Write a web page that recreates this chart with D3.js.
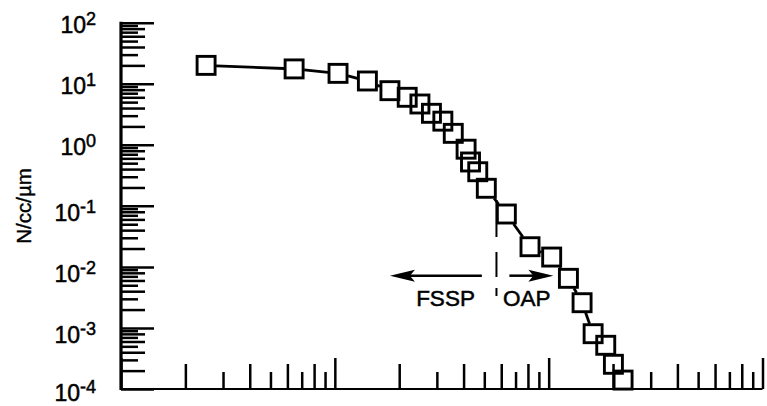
<!DOCTYPE html>
<html><head><meta charset="utf-8">
<script src="https://cdn.jsdelivr.net/npm/d3@7"></script>
<style>body{margin:0;background:#fff}svg{display:block}</style>
</head><body><svg id="c" width="767" height="406"></svg>
<script>
// ---- data ----
const particleSize = [2.5, 6.45, 10.35, 14.2, 18.1, 21.8, 25.0, 28.3, 32.0, 35.8, 41.1, 43.1, 46.6, 51.1, 63.4, 81.8, 103.3, 123.7, 143.3, 161.4, 184.9, 200.8, 222.8];
const concentration = [20.0, 17.5, 14.8, 11.1, 7.7, 6.0, 4.66, 3.28, 2.44, 1.54, 0.847, 0.523, 0.362, 0.194, 0.0735, 0.0214, 0.0145, 0.0065, 0.00259, 0.000805, 0.00052, 0.000254, 0.00014];
const yTickExponents = [2, 1, 0, -1, -2, -3, -4];
const xMajorTicks = [1, 10, 100, 1000];
const yTitle = "N/cc/\u00b5m";
const probeBoundary = 57;            // size where FSSP hands over to OAP
const probeBoundaryRange = [0.125, 0.0033];
const leftArrow = [48.7, 18.1];      // from, to (size units)
const rightArrow = [65.5, 105.2];
const arrowLevel = 0.00718;
const probeLabels = ["FSSP", "OAP"];
const probeLabelX = [24.0, 61.2];
const probeLabelLevel = 0.00229;

// ---- chart ----
const FONT = "'Liberation Sans', Arial, Helvetica, sans-serif";
const svg = d3.select("#c");
const x = d3.scaleLog().domain([1, 1000]).range([121, 762.5]);
const y = d3.scaleLog().domain([1e-4, 1e2]).range([389, 22.7]);

function minors(lo, hi, parity) {
  const out = [];
  for (let e = lo; e < hi; e++) for (let m = 2; m <= 9; m++) if (m % 2 === parity) out.push(m * Math.pow(10, e));
  return out;
}

// x axis tick groups
const xGroups = [
  {vals: xMajorTicks, len: 31},
  {vals: minors(0, 3, 0), len: 25},
  {vals: minors(0, 3, 1), len: 17}
];
xGroups.forEach(g => {
  const ax = svg.append("g").attr("transform", "translate(0,389)")
    .call(d3.axisBottom(x).tickValues(g.vals).tickSize(-g.len).tickSizeOuter(0).tickFormat(""));
  ax.select(".domain").remove();
  ax.selectAll("line").attr("stroke", "#000").attr("stroke-width", 2.5);
});
// y axis tick groups
const yGroups = [
  {vals: yTickExponents.map(e => Math.pow(10, e)), len: 33},
  {vals: minors(-4, 2, 0), len: 24},
  {vals: minors(-4, 2, 1), len: 17}
];
yGroups.forEach(g => {
  const ax = svg.append("g").attr("transform", "translate(121,0)")
    .call(d3.axisLeft(y).tickValues(g.vals).tickSize(-g.len).tickSizeOuter(0).tickFormat(""));
  ax.select(".domain").remove();
  ax.selectAll("line").attr("stroke", "#000").attr("stroke-width", 2.5);
});
// axis lines
svg.append("line").attr("x1", x(1)).attr("x2", x(1000)).attr("y1", y(1e-4)).attr("y2", y(1e-4))
  .attr("stroke", "#000").attr("stroke-width", 2.2);
svg.append("line").attr("x1", x(1)).attr("x2", x(1)).attr("y1", y(1e2) - 1).attr("y2", y(1e-4) + 1)
  .attr("stroke", "#000").attr("stroke-width", 3.2);

// y tick labels
yTickExponents.forEach(e => {
  const t = svg.append("text").attr("x", 96)
    .attr("y", Math.min(y(Math.pow(10, e)) + (e >= 0 ? 10.5 : 15), 400.5))
    .attr("text-anchor", "end").attr("font-family", FONT).attr("fill", "#000")
    .attr("stroke", "#000").attr("stroke-width", 0.5);
  t.append("tspan").attr("font-size", 23).text("10");
  t.append("tspan").attr("font-size", 18).attr("dy", -8).text(String(e));
});

// y title
svg.append("text").attr("transform", "translate(31,206) rotate(-90)")
  .attr("text-anchor", "middle").attr("font-family", FONT).attr("font-size", 20.5)
  .attr("fill", "#000").attr("stroke", "#000").attr("stroke-width", 0.4).text(yTitle);

// connecting line (segments between square edges)
const pts = particleSize.map((d, i) => [x(d), y(concentration[i])]);
const half = 10;
for (let i = 0; i < pts.length - 1; i++) {
  const [x1, y1] = pts[i], [x2, y2] = pts[i + 1];
  const dx = x2 - x1, dy = y2 - y1;
  const t = half / Math.max(Math.abs(dx), Math.abs(dy));
  if (2 * t < 1) {
    svg.append("line").attr("x1", x1 + dx * t).attr("y1", y1 + dy * t)
      .attr("x2", x2 - dx * t).attr("y2", y2 - dy * t)
      .attr("stroke", "#000").attr("stroke-width", 2.8);
  }
}
// squares
svg.append("g").selectAll("rect").data(particleSize).join("rect")
  .attr("x", d => x(d) - 9).attr("y", (d, i) => y(concentration[i]) - 9)
  .attr("width", 18).attr("height", 18)
  .attr("fill", "none").attr("stroke", "#000").attr("stroke-width", 2.9);

// probe boundary dashed line
svg.append("line").attr("x1", x(probeBoundary)).attr("x2", x(probeBoundary))
  .attr("y1", y(probeBoundaryRange[0])).attr("y2", y(probeBoundaryRange[1]))
  .attr("stroke", "#000").attr("stroke-width", 2).attr("stroke-dasharray", "37,15,25,11,8");

// arrows
function arrow(fromV, toV) {
  const x0 = x(fromV), x1 = x(toV), yy = y(arrowLevel);
  const dir = Math.sign(x1 - x0), hl = 25, hw = 6;
  svg.append("line").attr("x1", x0).attr("x2", x1 - dir * hl * 0.6).attr("y1", yy).attr("y2", yy)
    .attr("stroke", "#000").attr("stroke-width", 2.5);
  svg.append("path")
    .attr("d", `M${x1},${yy} L${x1 - dir * hl},${yy - hw} L${x1 - dir * hl * 0.8},${yy} L${x1 - dir * hl},${yy + hw} Z`)
    .attr("fill", "#000");
}
arrow(leftArrow[0], leftArrow[1]);
arrow(rightArrow[0], rightArrow[1]);

// probe labels
probeLabels.forEach((s, i) => {
  svg.append("text").attr("x", x(probeLabelX[i])).attr("y", y(probeLabelLevel))
    .attr("font-family", FONT).attr("font-size", 22.5).attr("fill", "#000")
    .attr("stroke", "#000").attr("stroke-width", 0.5).text(s);
});
</script></body></html>
